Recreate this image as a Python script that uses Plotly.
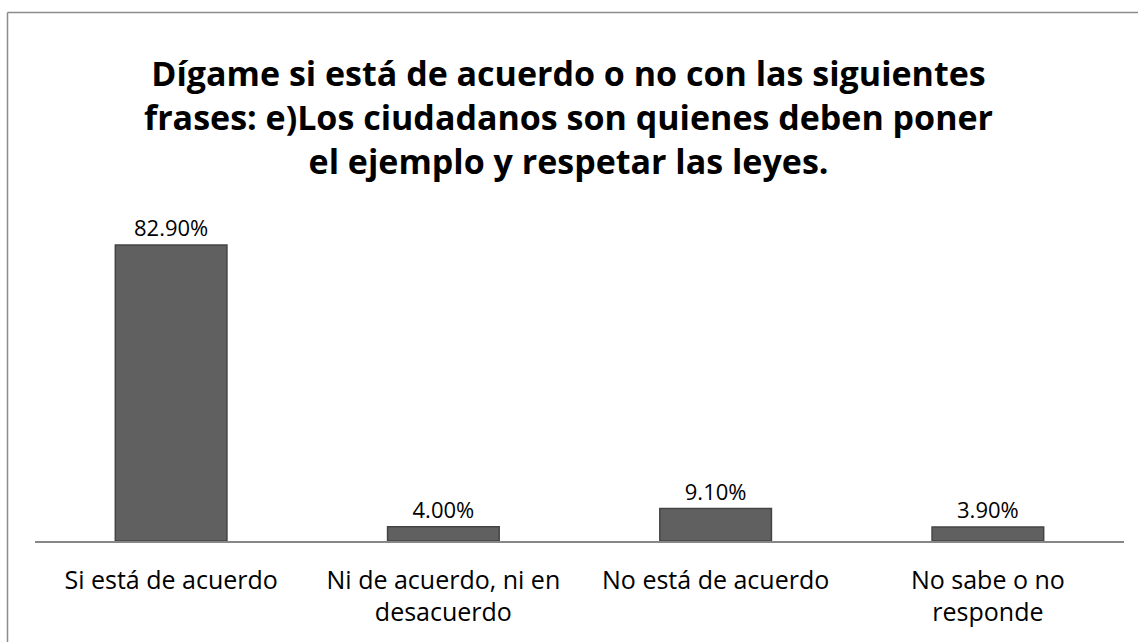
import plotly.graph_objects as go

categories = ["Si está de acuerdo", "Ni de acuerdo, ni en<br>desacuerdo",
              "No está de acuerdo", "No sabe o no<br>responde"]
values = [82.9, 4.0, 9.1, 3.9]
title_text = ("Dígame si está de acuerdo o no con las siguientes<br>"
              "frases: e)Los ciudadanos son quienes deben poner<br>"
              "el ejemplo y respetar las leyes.")

W, H = 1138, 642
ml, mr, mt, mb = 35, 14, 200, 101
pw, ph = W - ml - mr, H - mt - mb

def px_x(x):
    return (x - ml) / pw

def px_y(y):
    return 1 + (mt - y) / ph

FONT = "Open Sans, Lato, sans-serif"

fig = go.Figure(go.Bar(
    x=categories, y=values,
    width=0.41,
    marker=dict(color="#606060", line=dict(color="#444444", width=1.5)),
    texttemplate="%{y:.2f}%", textposition="outside",
    textfont=dict(family=FONT, size=22, color="#000"),
    cliponaxis=False,
))

fig.update_layout(
    width=W, height=H,
    margin=dict(l=ml, r=mr, t=mt, b=mb),
    paper_bgcolor="white", plot_bgcolor="white",
    showlegend=False,
    font=dict(family=FONT, color="#000"),
    xaxis=dict(showline=True, linecolor="#878787", linewidth=1.5,
               ticks="", tickfont=dict(size=25), ticklabelstandoff=16,
               showgrid=False, zeroline=False),
    yaxis=dict(range=[0, 95.5], visible=False, showgrid=False, zeroline=False),
    annotations=[dict(
        text=title_text, xref="paper", yref="paper",
        x=px_x(568), y=px_y(117), xanchor="center", yanchor="middle",
        showarrow=False,
        font=dict(family=FONT, size=34, color="#000", weight="bold"),
    )],
    shapes=[
        dict(type="line", xref="paper", yref="paper",
             x0=px_x(7.5), x1=px_x(1145), y0=px_y(12.5), y1=px_y(12.5),
             line=dict(color="#8c8c8c", width=1.5)),
        dict(type="line", xref="paper", yref="paper",
             x0=px_x(7.5), x1=px_x(7.5), y0=px_y(12.5), y1=px_y(650),
             line=dict(color="#8c8c8c", width=1.5)),
    ],
)

fig.write_html("out.html", config={"displayModeBar": False},
               post_script="document.body.style.margin='0';document.body.style.overflow='hidden';")
